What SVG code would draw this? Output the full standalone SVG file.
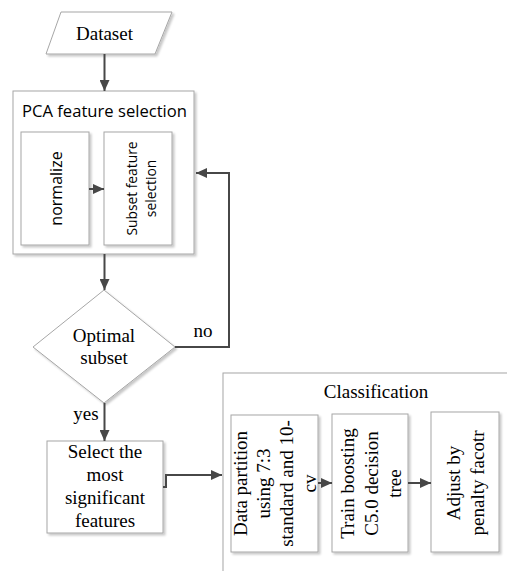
<svg xmlns="http://www.w3.org/2000/svg" width="507" height="571" viewBox="0 0 507 571">
<defs>
<style>
.box{fill:#fff;stroke:#a6a6a6;stroke-width:1}
.sh{filter:url(#ds)}
.serif{font-family:"Liberation Serif","Times New Roman",serif;font-size:19px;fill:#000}
.sans{font-family:"Open Sans","Noto Sans",sans-serif;fill:#000}
.conn{fill:none;stroke:#474747;stroke-width:2}
</style>
<filter id="ds" x="-10%" y="-10%" width="130%" height="130%">
<feDropShadow dx="2" dy="2" stdDeviation="0.8" flood-color="#000" flood-opacity="0.22"/>
</filter>
<marker id="ah" markerUnits="userSpaceOnUse" markerWidth="12" markerHeight="10" refX="11" refY="5" orient="auto">
<path d="M0,0 L11,5 L0,10 z" fill="#474747"/>
</marker>
</defs>

<g id="dataset">
<polygon class="box sh" points="61,12 172,12 155,54 46,54"/>
<text class="serif" x="104.5" y="40" text-anchor="middle">Dataset</text>
</g>

<g id="pca">
<rect class="box sh" x="13" y="91" width="181" height="163"/>
<text class="sans" x="22" y="117" font-size="16.5" textLength="165" lengthAdjust="spacingAndGlyphs">PCA feature selection</text>
</g>

<g id="normalize">
<rect class="box sh" x="21" y="132" width="68" height="113"/>
<text class="sans" font-size="16" text-anchor="middle" transform="translate(62,188.5) rotate(-90)">normalize</text>
</g>

<g id="subset">
<rect class="box sh" x="104" y="132" width="68" height="113"/>
<g class="sans" font-size="13.8" text-anchor="middle" transform="translate(137,188.5) rotate(-90)">
<text x="0" y="0">Subset feature</text>
<text x="0" y="19">selection</text>
</g>
</g>

<g id="optimal">
<polygon class="box sh" points="104,290 175,347 104,403 33,347"/>
<text class="serif" x="104" y="341.5" text-anchor="middle">Optimal</text>
<text class="serif" x="104" y="364" text-anchor="middle">subset</text>
</g>

<g id="select">
<rect class="box sh" x="47" y="441" width="116" height="92"/>
<g class="serif" text-anchor="middle">
<text x="105" y="458">Select the</text>
<text x="105" y="481">most</text>
<text x="105" y="504">significant</text>
<text x="105" y="527">features</text>
</g>
</g>

<g id="classification">
<rect class="box sh" x="223" y="373" width="300" height="220"/>
<text class="serif" x="376" y="398" text-anchor="middle">Classification</text>
</g>

<g id="partition">
<rect class="box sh" x="231" y="415" width="87" height="137"/>
<g class="serif" text-anchor="middle" transform="translate(247,483.5) rotate(-90)">
<text x="0" y="0">Data partition</text>
<text x="0" y="23">using 7:3</text>
<text x="0" y="46">standard and 10-</text>
<text x="0" y="69">cv</text>
</g>
</g>

<g id="train">
<rect class="box sh" x="332" y="414" width="76" height="138"/>
<g class="serif" text-anchor="middle" transform="translate(354,483.5) rotate(-90)">
<text x="0" y="0">Train boosting</text>
<text x="0" y="23.5">C5.0 decision</text>
<text x="0" y="47">tree</text>
</g>
</g>

<g id="adjust">
<rect class="box sh" x="431" y="412" width="68" height="140"/>
<g class="serif" text-anchor="middle" transform="translate(460,483) rotate(-90)">
<text x="0" y="0">Adjust by</text>
<text x="0" y="24">penalty facotr</text>
</g>
</g>

<g id="connectors">
<line class="conn" x1="104.5" y1="54" x2="104.5" y2="91" marker-end="url(#ah)"/>
<line class="conn" x1="89" y1="189" x2="104" y2="189" marker-end="url(#ah)"/>
<line class="conn" x1="104.5" y1="254" x2="104.5" y2="290" marker-end="url(#ah)"/>
<polyline class="conn" points="175,347 229,347 229,173 196,173" marker-end="url(#ah)"/>
<line class="conn" x1="104.5" y1="403" x2="104.5" y2="441" marker-end="url(#ah)"/>
<polyline class="conn" points="163,487 166,487 166,475 222,475" marker-end="url(#ah)"/>
<line class="conn" x1="318" y1="483" x2="332" y2="483" marker-end="url(#ah)"/>
<line class="conn" x1="408" y1="483" x2="431" y2="483" marker-end="url(#ah)"/>
<text class="serif" x="203" y="337" text-anchor="middle">no</text>
<text class="serif" x="86" y="420" text-anchor="middle">yes</text>
</g>
</svg>
